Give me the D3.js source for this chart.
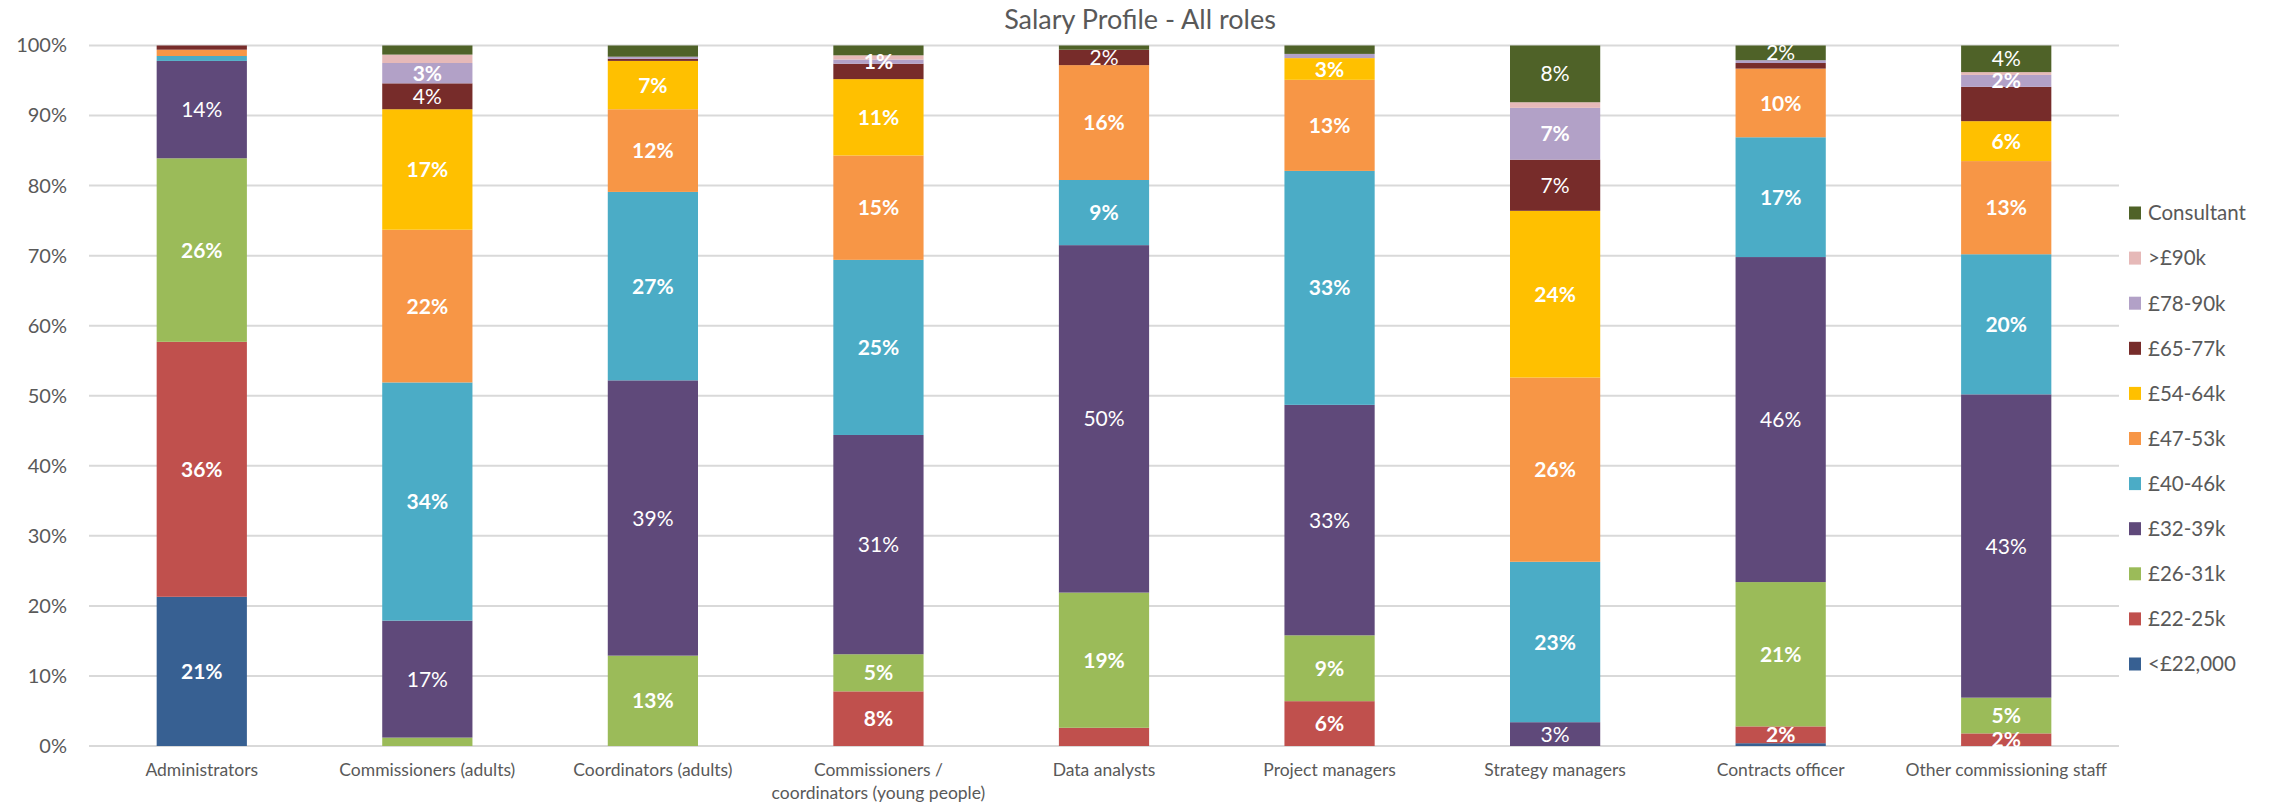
<!DOCTYPE html>
<html>
<head>
<meta charset="utf-8">
<script src="https://cdn.jsdelivr.net/npm/d3@7"></script>
<style>
  html, body { margin: 0; padding: 0; background: #fff; }
  svg { display: block; }
  text { font-family: Lato, "Open Sans", sans-serif; }
</style>
</head>
<body>
<svg id="chart" width="2279" height="805"></svg>
<script>
// ---------- data ----------
const categories = [
  "Administrators",
  "Commissioners (adults)",
  "Coordinators (adults)",
  "Commissioners / coordinators (young people)",
  "Data analysts",
  "Project managers",
  "Strategy managers",
  "Contracts officer",
  "Other commissioning staff"
];
const seriesNames = ["<£22,000", "£22-25k", "£26-31k", "£32-39k", "£40-46k", "£47-53k", "£54-64k", "£65-77k", "£78-90k", ">£90k", "Consultant"];
const under22 =    [21.3, 0,    0,    0,    0,    0,    0,    0.4,  0];
const s22to25 =    [36.4, 0,    0,    7.8,  2.6,  6.4,  0,    2.4,  1.8];
const s26to31 =    [26.2, 1.2,  12.9, 5.3,  19.3, 9.4,  0,    20.6, 5.1];
const s32to39 =    [13.9, 16.7, 39.3, 31.3, 49.6, 32.9, 3.4,  46.4, 43.3];
const s40to46 =    [0.7,  34.0, 26.9, 25.0, 9.3,  33.4, 22.9, 17.1, 20.0];
const s47to53 =    [0.9,  21.8, 11.8, 14.9, 16.4, 13.0, 26.3, 9.8,  13.3];
const s54to64 =    [0,    17.2, 6.9,  10.9, 0,    3.1,  23.8, 0,    5.7];
const s65to77 =    [0.6,  3.7,  0.3,  2.2,  2.2,  0,    7.3,  0.8,  4.9];
const s78to90 =    [0,    2.9,  0.3,  0.6,  0,    0.6,  7.4,  0.4,  1.7];
const over90 =     [0,    1.2,  0,    0.6,  0,    0,    0.8,  0,    0.4];
const consultant = [0,    1.3,  1.6,  1.4,  0.6,  1.2,  8.1,  2.1,  3.8];
const seriesValues = [under22, s22to25, s26to31, s32to39, s40to46, s47to53, s54to64, s65to77, s78to90, over90, consultant];
const colors = ["#376092", "#c0504d", "#9bbb59", "#5f497a", "#4bacc6", "#f79646", "#ffc000", "#772c2a", "#b2a1c7", "#e6b9b8", "#4f6228"];
const yTicks = [0, 10, 20, 30, 40, 50, 60, 70, 80, 90, 100];
// data labels shown below the usual size threshold, and ones that were removed
const extraLabels = [["Commissioners / coordinators (young people)", "£78-90k"], ["Data analysts", "£65-77k"],
  ["Contracts officer", "£22-25k"], ["Contracts officer", "Consultant"],
  ["Other commissioning staff", "£22-25k"], ["Other commissioning staff", "£78-90k"]];
const hiddenLabels = [["Other commissioning staff", "£65-77k"]];
const darkSeries = ["£32-39k", "£65-77k", "Consultant"];

// ---------- layout ----------
const svg = d3.select("#chart");
const plotL = 89, plotR = 2119, plotT = 45.5, plotB = 746;

const rows = categories.map((c, i) => {
  const r = { cat: c };
  seriesNames.forEach((s, j) => r[s] = seriesValues[j][i]);
  return r;
});
const stacked = d3.stack().keys(seriesNames)(rows);

const x = d3.scaleBand().domain(categories).range([plotL, plotR]).paddingInner(0.6).paddingOuter(0.3);
const y = d3.scaleLinear().domain([0, 100]).range([plotB, plotT]);
const color = d3.scaleOrdinal().domain(seriesNames).range(colors);

// gridlines
svg.append("g").selectAll("line").data(yTicks).join("line")
  .attr("x1", plotL).attr("x2", plotR)
  .attr("y1", d => y(d)).attr("y2", d => y(d))
  .attr("stroke", "#d9d9d9").attr("stroke-width", 2);

// y axis labels
const yAxis = d3.axisLeft(y).tickValues(yTicks).tickFormat(d => d + "%").tickSize(0).tickPadding(22);
const gy = svg.append("g").attr("transform", `translate(${plotL},0)`).call(yAxis);
gy.select(".domain").remove();
gy.selectAll("text").attr("font-family", "Lato").attr("font-size", 20).attr("fill", "#595959");

// bars
const layers = svg.append("g").selectAll("g").data(stacked).join("g")
  .attr("fill", d => color(d.key));
layers.selectAll("rect").data(d => d.map(p => ({ p, key: d.key }))).join("rect")
  .attr("x", d => x(d.p.data.cat))
  .attr("width", x.bandwidth())
  .attr("y", d => y(d.p[1]))
  .attr("height", d => Math.max(0, y(d.p[0]) - y(d.p[1])));

// data labels
const isIn = (list, c, s) => list.some(e => e[0] === c && e[1] === s);
const labels = [];
stacked.forEach(layer => {
  layer.forEach(p => {
    const v = p[1] - p[0];
    const c = p.data.cat, s = layer.key;
    const show = (v >= 2.8 && !isIn(hiddenLabels, c, s)) || isIn(extraLabels, c, s);
    if (show) labels.push({ c, s, v, mid: (p[0] + p[1]) / 2 });
  });
});
svg.append("g").selectAll("text").data(labels).join("text")
  .attr("x", d => x(d.c) + x.bandwidth() / 2)
  .attr("y", d => y(d.mid))
  .attr("dy", "0.36em")
  .attr("text-anchor", "middle")
  .attr("font-size", 21)
  .attr("font-weight", d => darkSeries.includes(d.s) ? 400 : 700)
  .attr("fill", "#ffffff")
  .text(d => Math.round(d.v) + "%");

// x axis labels
const xg = svg.append("g");
categories.forEach(c => {
  const lines = c.includes(" / ") ? [c.split(" / ")[0] + " /", c.split(" / ")[1]] : [c];
  const t = xg.append("text")
    .attr("x", x(c) + x.bandwidth() / 2)
    .attr("y", 776)
    .attr("text-anchor", "middle")
    .attr("font-size", 17.5)
    .attr("fill", "#595959");
  lines.forEach((l, i) => t.append("tspan").attr("x", x(c) + x.bandwidth() / 2).attr("dy", i === 0 ? 0 : 23).text(l));
});

// title
svg.append("text")
  .attr("x", 1140).attr("y", 29)
  .attr("text-anchor", "middle")
  .attr("font-size", 27)
  .attr("fill", "#595959")
  .text("Salary Profile - All roles");

// legend (reverse order)
const legendItems = seriesNames.slice().reverse();
const lg = svg.append("g").selectAll("g").data(legendItems).join("g")
  .attr("transform", (d, i) => `translate(2129, ${213 + i * 45.1})`);
lg.append("rect").attr("x", 0).attr("y", -6.5).attr("width", 12).attr("height", 13).attr("fill", d => color(d));
lg.append("text").attr("x", 19).attr("y", 0).attr("dy", "0.36em")
  .attr("font-size", 20.5).attr("fill", "#595959").text(d => d);
</script>
</body>
</html>
